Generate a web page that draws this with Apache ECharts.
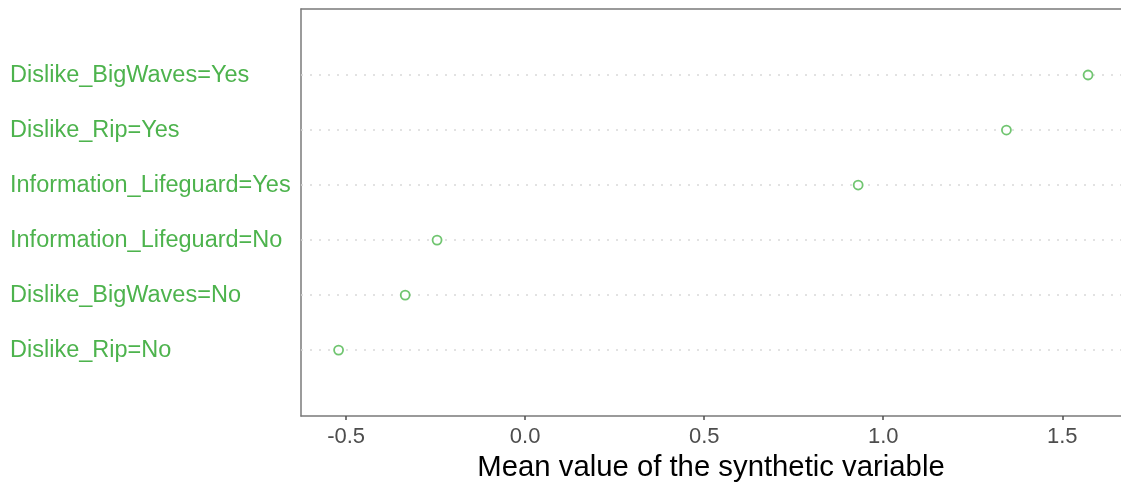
<!DOCTYPE html>
<html>
<head>
<meta charset="utf-8">
<script src="https://cdn.jsdelivr.net/npm/echarts@6/dist/echarts.min.js"></script>
<style>
html,body{margin:0;padding:0;background:#fff;}
#c{width:1121px;height:487px;}
</style>
</head>
<body>
<div id="c"></div>
<script>
// categories listed from top to bottom
var categories = [
  'Dislike_BigWaves=Yes',
  'Dislike_Rip=Yes',
  'Information_Lifeguard=Yes',
  'Information_Lifeguard=No',
  'Dislike_BigWaves=No',
  'Dislike_Rip=No'
];
var meanValues = [1.572, 1.344, 0.930, -0.246, -0.335, -0.521];
var xTicks = [-0.5, 0.0, 0.5, 1.0, 1.5];
var xTitle = 'Mean value of the synthetic variable';

var green = '#4DB34D';
var frame = '#7a7a7a';
var catIdx = categories.map(function (c, i) { return i; });
var points = meanValues.map(function (v, i) { return [v, i]; });

var chart = echarts.init(document.getElementById('c'), null, {renderer: 'canvas'});
chart.setOption({
  animation: false,
  textStyle: {fontFamily: 'Liberation Sans, Arial, sans-serif'},
  grid: {left: 301, top: 9, right: 0, bottom: 67, show: false, containLabel: false},
  xAxis: [{
    type: 'value', min: -0.626, max: 1.664, position: 'bottom',
    axisLine: {show: true, onZero: false, lineStyle: {color: frame, width: 1.5}},
    axisTick: {show: true, customValues: xTicks, length: 4, lineStyle: {color: '#4d4d4d', width: 1.5}},
    axisLabel: {
      customValues: xTicks, margin: 10, color: '#4d4d4d', fontSize: 22,
      formatter: function (v) { return v.toFixed(1); }
    },
    splitLine: {show: false},
    name: xTitle, nameLocation: 'middle', nameGap: 34,
    nameTextStyle: {color: '#000', fontSize: 29.3}
  }, {
    type: 'value', min: -0.626, max: 1.664, position: 'top',
    axisLine: {show: true, onZero: false, lineStyle: {color: frame, width: 1.5}},
    axisTick: {show: false}, axisLabel: {show: false}, splitLine: {show: false}
  }],
  yAxis: {
    type: 'value', min: -1.2, max: 6.2, inverse: true,
    axisLine: {show: true, onZero: false, lineStyle: {color: frame, width: 1.5}},
    axisTick: {show: false}, splitLine: {show: false},
    axisLabel: {
      customValues: catIdx, align: 'left', margin: 291, color: green, fontSize: 23.5,
      formatter: function (v) { return categories[Math.round(v)] || ''; }
    }
  },
  series: [{
    type: 'scatter',
    data: points,
    symbol: 'circle', symbolSize: 9,
    itemStyle: {color: '#fff', borderColor: '#4CB64C', borderWidth: 1.8},
    z: 3,
    markLine: {
      silent: true, symbol: ['none', 'none'], label: {show: false},
      lineStyle: {color: '#d9d9d9', type: [2, 7], width: 1.6},
      data: catIdx.map(function (i) { return {yAxis: i}; }),
      z: 1
    }
  }]
});
</script>
</body>
</html>
